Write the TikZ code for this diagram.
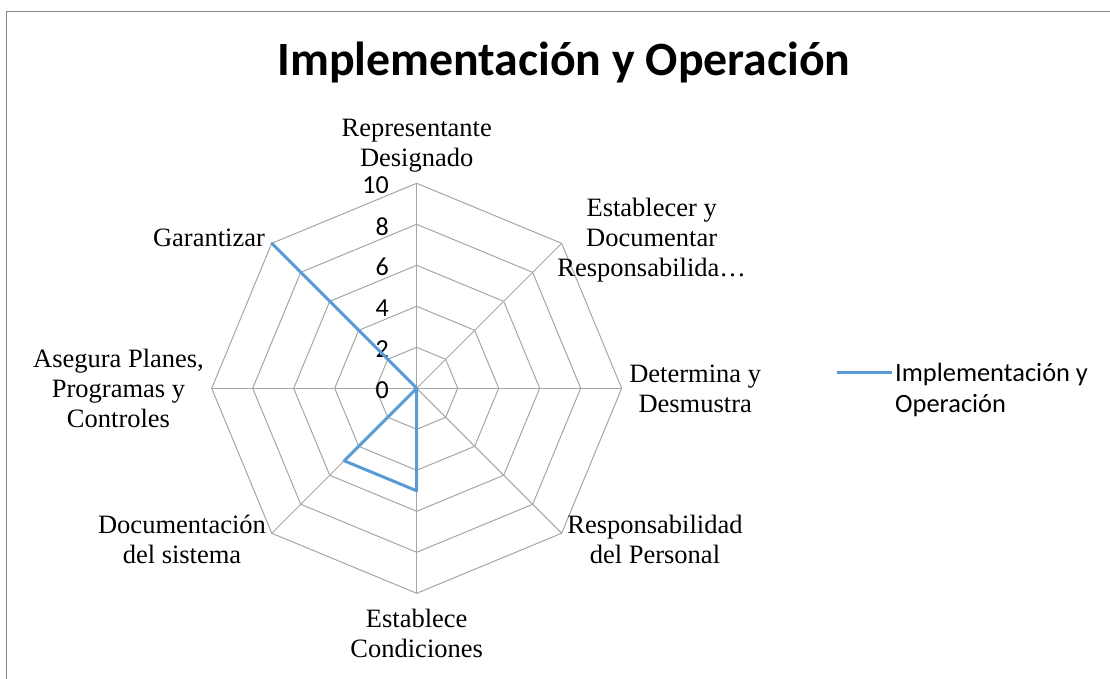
\documentclass[tikz,border=0pt]{standalone}
\usepackage{fontspec}
\setmainfont{Liberation Serif}
\newfontfamily\calibri{Carlito}
\usetikzlibrary{positioning}

\definecolor{azulserie}{RGB}{91,155,213}
\definecolor{grisrejilla}{RGB}{166,166,166}
\definecolor{grismarco}{RGB}{134,134,134}

\begin{document}
\begin{tikzpicture}[x=1pt,y=1pt,font=\fontsize{26.5}{30}\selectfont]
\tikzset{
    %Define style for grid lines
    rejilla/.style={
           draw=grisrejilla,
           line width=1pt},
    %Define style for the data line
    serie/.style={
           draw=azulserie,
           line width=3pt,
           line join=round},
    %Define style for axis labels
    etiq/.style={
           align=center,
           inner sep=0pt,
           anchor=base},
    %Define style for tick numbers
    valor/.style={
           font=\calibri\fontsize{26}{31}\selectfont,
           inner sep=0pt,
           anchor=east}
}
	\useasboundingbox (-416.7,-290.7) rectangle (693.3,388.3);
	\draw[grismarco,line width=1pt] (-409.7,-290.7) -- (-409.7,376.3) -- (693.3,376.3);

	\coordinate (ctr) at (0,0);
 %grid
	\foreach \r in {41,82,...,205}
	   \draw[rejilla] (90:\r) -- (45:\r) -- (0:\r) -- (-45:\r) -- (-90:\r) -- (-135:\r) -- (180:\r) -- (135:\r) -- cycle;
	\foreach \a [count=\i] in {90,45,0,-45,-90,-135,180,135}
	   \coordinate (v\i) at (\a:205);
	\foreach \i in {1,...,8}
	   \draw[rejilla] (ctr) -- (v\i);

 %tick numbers
	\foreach \n [count=\k from 0] in {0,2,...,10}
	   \node[valor] (t\n) at (-27.7,{41*\k-2}) {\n};

 %data
	\foreach \a/\v [count=\i] in {90/0,45/0,0/0,-45/0,-90/5,-135/5,180/0,135/10}
	   \coordinate (s\i) at (\a:{\v*20.5});
	\draw[serie] (s1) -- (s2) -- (s3) -- (s4) -- (s5) -- (s6) -- (s7) -- (s8) -- cycle;

 %labels (base = last line)
	\node[etiq] (repr) at (0,221.3) {Representante\\Designado};
	\node[etiq] (estab) at (235,111.3) {Establecer y\\Documentar\\Responsabilida…};
	\node[etiq] (deter) at (278.5,-24.7) {Determina y\\Desmustra};
	\node[etiq] (respo) at (238.3,-174.7) {Responsabilidad\\del Personal};
	\node[etiq] (condi) at (0,-268.7) {Establece\\Condiciones};
	\node[etiq] (docum) at (-234.7,-174.7) {Documentación\\del sistema};
	\node[etiq] (asegu) at (-298.2,-39.7) {Asegura Planes,\\Programas y\\Controles};
	\node[etiq] (garan) at (-207.7,141.3) {Garantizar};

	\node[anchor=base,font=\calibri\bfseries\fontsize{47.8}{56}\selectfont] (titulo) at (147.3,312.6) {Implementación y Operación};

 %legend
	\coordinate (leyA) at (420.3,15.3);
	\node[anchor=base west,inner sep=0pt,align=left,font=\calibri\fontsize{26.4}{31}\selectfont] (leyenda) at (478.3,-24.7) {Implementación y\\Operación};
	\draw[serie,shorten >=3pt] (leyA) -- (leyA -| leyenda.west);

\end{tikzpicture}
\end{document}
